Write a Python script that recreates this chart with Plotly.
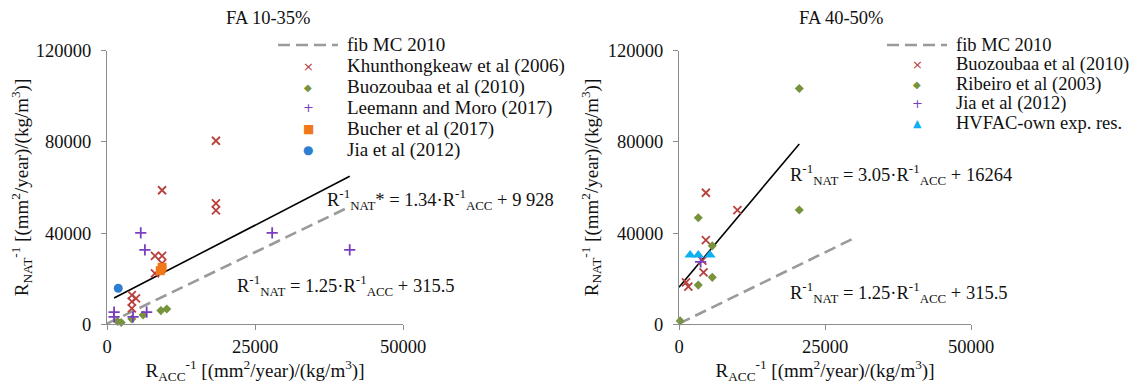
import plotly.graph_objects as go

# The page body has an 8 px margin, so the figure is drawn from (8, 8) of the window.
OFF = 8
W, H = 1138 - OFF, 390 - OFF

# ---------------- data ----------------
# Left panel: FA 10-35%
khun_x = [18400, 9300, 18400, 18400, 8100, 9300, 9300, 8100, 4200, 4900, 4200, 4200]
khun_y = [80500, 58800, 53000, 50000, 30000, 30000, 26700, 22300, 12800, 11400, 9900, 7000]
buozL_x = [1800, 2400, 4200, 6100, 9100, 10100]
buozL_y = [1200, 800, 2300, 4100, 6000, 6700]
leem_x = [5700, 6400, 27900, 41000, 1200, 1200, 4400, 6700]
leem_y = [40100, 32600, 40100, 32600, 5300, 3300, 3300, 5300]
bucher_x = [9000, 9300]
bucher_y = [23500, 25000]
jiaL_x = [1900]
jiaL_y = [15800]
fitL_x = [1200, 41000]
fitL_y = [11500, 64900]
fibL_x = [0, 41000]
fibL_y = [300, 51600]

# Right panel: FA 40-50%
buozR_x = [4600, 10000, 4600, 4000, 4200, 1200, 1600]
buozR_y = [57700, 50100, 36900, 27900, 22800, 18400, 16500]
rib_x = [20600, 20600, 3300, 5700, 5700, 3300, 200]
rib_y = [103400, 50100, 46700, 34400, 20600, 17200, 1500]
jiaR_x = [3700]
jiaR_y = [27400]
hvfac_x = [1900, 3300, 5300]
hvfac_y = [30400, 30400, 30400]
fitR_x = [0, 20600]
fitR_y = [16300, 79100]
fibR_x = [0, 30000]
fibR_y = [300, 37800]

x_ticks = [0, 25000, 50000]
y_ticks = [0, 40000, 80000, 120000]

titles = ["FA 10-35%", "FA 40-50%"]
eqL1 = "R<sup>-1</sup><sub>NAT</sub>* = 1.34·R<sup>-1</sup><sub>ACC</sub> + 9 928"
eqL2 = "R<sup>-1</sup><sub>NAT</sub> = 1.25·R<sup>-1</sup><sub>ACC</sub> + 315.5"
eqR1 = "R<sup>-1</sup><sub>NAT</sub> = 3.05·R<sup>-1</sup><sub>ACC</sub> + 16264"
eqR2 = "R<sup>-1</sup><sub>NAT</sub> = 1.25·R<sup>-1</sup><sub>ACC</sub> + 315.5"
xtitle = "R<sub>ACC</sub><sup>-1</sup> [(mm<sup>2</sup>/year)/(kg/m<sup>3</sup>)]"
ytitle = "R<sub>NAT</sub><sup>-1</sup> [(mm<sup>2</sup>/year)/(kg/m<sup>3</sup>)]"

legL_names = ["fib MC 2010", "Khunthongkeaw et al (2006)", "Buozoubaa et al (2010)",
              "Leemann and Moro (2017)", "Bucher et al (2017)", "Jia et al (2012)"]
legR_names = ["fib MC 2010", "Buozoubaa et al (2010)", "Ribeiro et al (2003)",
              "Jia et al (2012)", "HVFAC-own exp. res."]

# ---------------- style ----------------
FONT = "Liberation Serif, Times New Roman, serif"
RED, GREEN, PURPLE, ORANGE, BLUE, CYAN = "#B8413E", "#77933C", "#7A3FC0", "#F07818", "#2E7FD0", "#10B0F0"
GREY_AX = "#8C8C8C"
GREY_DASH = "#9A9A9A"
TXT = "#111111"

def px(x):
    return (x - OFF) / W

def py(y):
    return 1 - (y - OFF) / H

fig = go.Figure()

def add_panel(xa, ya, series):
    for (xs, ys, mode, kw) in series:
        fig.add_trace(go.Scatter(x=xs, y=ys, mode=mode, xaxis=xa, yaxis=ya,
                                 showlegend=False, cliponaxis=False, **kw))

def mk(sym, col, size, lw=0):
    return dict(marker=dict(symbol=sym, color=col, size=size, line=dict(width=lw, color=col)))

add_panel("x", "y", [
    (fibL_x, fibL_y, "lines", dict(line=dict(color=GREY_DASH, width=2.6, dash="12px,6px"))),
    (fitL_x, fitL_y, "lines", dict(line=dict(color="black", width=1.6))),
    (khun_x, khun_y, "markers", mk("x-thin", RED, 8, 1.8)),
    (buozL_x, buozL_y, "markers", mk("diamond", GREEN, 7)),
    (leem_x, leem_y, "markers", mk("cross-thin", PURPLE, 8, 1.8)),
    (bucher_x, bucher_y, "markers", mk("square", ORANGE, 9)),
    (jiaL_x, jiaL_y, "markers", mk("circle", BLUE, 9)),
])
add_panel("x2", "y2", [
    (fibR_x, fibR_y, "lines", dict(line=dict(color=GREY_DASH, width=2.6, dash="12px,6px"))),
    (fitR_x, fitR_y, "lines", dict(line=dict(color="black", width=1.6))),
    (buozR_x, buozR_y, "markers", mk("x-thin", RED, 8, 1.8)),
    (rib_x, rib_y, "markers", mk("diamond", GREEN, 7)),
    (jiaR_x, jiaR_y, "markers", mk("cross-thin", PURPLE, 8, 1.8)),
    (hvfac_x, hvfac_y, "markers", mk("triangle-up", CYAN, 10)),
])

ydom = [py(324.3), py(50.7)]
axis_common = dict(showgrid=False, zeroline=False, showline=True, linecolor=GREY_AX, linewidth=1.3,
                   ticks="outside", ticklen=5, tickcolor=GREY_AX, tickwidth=1.3, tickformat="d",
                   automargin=False, tickfont=dict(family=FONT, size=18.5, color=TXT))
xt = dict(text=xtitle, font=dict(family=FONT, size=19, color=TXT), standoff=6)
yt = dict(text=ytitle, font=dict(family=FONT, size=19, color=TXT), standoff=4)
fig.update_layout(
    xaxis=dict(domain=[px(107), px(403)], range=[0, 50000], tickvals=x_ticks, anchor="y",
               title=xt, **axis_common),
    yaxis=dict(domain=ydom, range=[0, 120000], tickvals=y_ticks, anchor="x",
               title=yt, ticklabelstandoff=6, **axis_common),
    xaxis2=dict(domain=[px(679), px(971)], range=[0, 50000], tickvals=x_ticks, anchor="y2",
                title=xt, **axis_common),
    yaxis2=dict(domain=ydom, range=[0, 120000], tickvals=y_ticks, anchor="x2",
                title=yt, ticklabelstandoff=6, **axis_common),
    width=W, height=H, margin=dict(l=0, r=0, t=0, b=0, autoexpand=False),
    paper_bgcolor="white", plot_bgcolor="white",
    font=dict(family=FONT, color=TXT),
    showlegend=False,
)

ann = []
def text(x, y, t, size=19, xanchor="left", color=TXT, family=FONT):
    ann.append(dict(x=px(x), y=py(y), xref="paper", yref="paper", text=t, showarrow=False,
                    xanchor=xanchor, yanchor="middle", borderpad=0,
                    font=dict(family=family, size=size, color=color)))

text(268, 18, titles[0], 18.5, "center")
text(841, 18, titles[1], 18.5, "center")
text(326, 199, eqL1, 18.5)
text(236, 285, eqL2, 18.5)
text(789, 174, eqR1, 18.5)
text(789, 292, eqR2, 18.5)

shapes = []
# legend keys
def legend(x_sym, x_dash0, x_dash1, x_txt, y0, dy, names, syms, size):
    for i, (name, s) in enumerate(zip(names, syms)):
        y = y0 + i * dy
        text(x_txt, y, name, size)
        if s is None:
            shapes.append(dict(type="line", xref="paper", yref="paper", x0=px(x_dash0), x1=px(x_dash1),
                               y0=py(y), y1=py(y), line=dict(color=GREY_DASH, width=2.6, dash="12px,6px")))
        else:
            ch, col, sz = s
            text(x_sym, y, ch, sz, "center", col, "DejaVu Sans")

legend(308, 278, 338, 346, 45, 21, legL_names,
       [None, ("×", RED, 13), ("◆", GREEN, 10), ("+", PURPLE, 13), ("■", ORANGE, 12), ("●", BLUE, 12)], 19)
legend(917, 887, 947, 955, 45, 19.5, legR_names,
       [None, ("×", RED, 13), ("◆", GREEN, 10), ("+", PURPLE, 13), ("▲", CYAN, 11)], 18.5)

fig.update_layout(annotations=ann, shapes=shapes)
fig.write_html("out.html")
